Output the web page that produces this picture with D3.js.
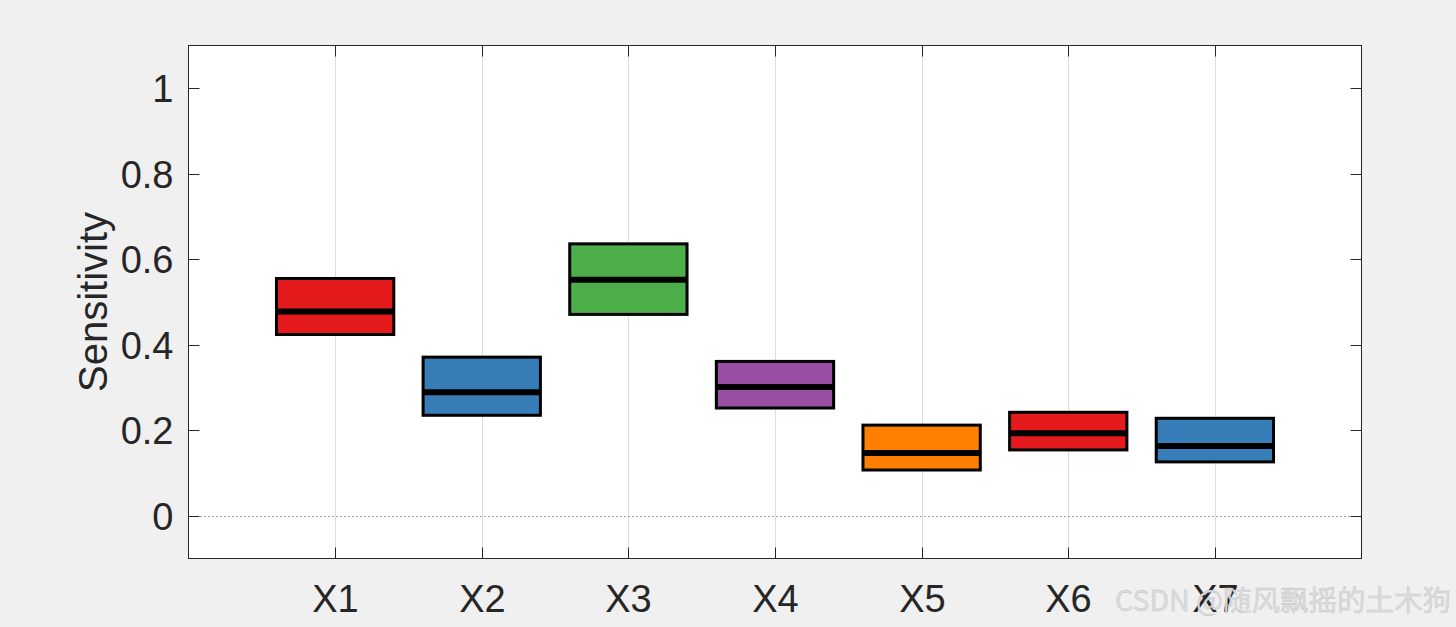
<!DOCTYPE html>
<html><head><meta charset="utf-8">
<script src="https://cdn.jsdelivr.net/npm/d3@7"></script>
<style>body{margin:0;background:#f0f0f0;}svg{display:block;}</style>
</head><body>
<script>
const categories = ["X1","X2","X3","X4","X5","X6","X7"];
const q1 =     [0.424, 0.235, 0.471, 0.252, 0.107, 0.154, 0.126];
const median = [0.478, 0.289, 0.552, 0.301, 0.147, 0.193, 0.163];
const q3 =     [0.555, 0.371, 0.636, 0.361, 0.212, 0.242, 0.228];
const colors = ["#e41a1c","#377eb8","#4daf4a","#984ea3","#ff7f00","#e41a1c","#377eb8"];
const yTicks = [0, 0.2, 0.4, 0.6, 0.8, 1];
const yTickLabels = ["0","0.2","0.4","0.6","0.8","1"];

const W = 1456, H = 627;
const L = 188.5, R = 1361.5, T = 45.5, B = 558.5;
const svg = d3.select("body").append("svg").attr("width", W).attr("height", H);
const x = d3.scaleLinear().domain([0, 8]).range([L, R]);
const y = d3.scaleLinear().domain([-0.1, 1.1]).range([B, T]);
const font = "'Liberation Sans', Arial, sans-serif";

svg.append("rect").attr("x", L).attr("y", T).attr("width", R - L).attr("height", B - T).attr("fill", "#fff");

// vertical grid
svg.append("g").selectAll("line").data(categories).join("line")
  .attr("x1", (d,i) => Math.round(x(i+1)) + 0.5).attr("x2", (d,i) => Math.round(x(i+1)) + 0.5)
  .attr("y1", T).attr("y2", B).attr("stroke", "#dcdcdc").attr("stroke-width", 1);

// zero dotted line
svg.append("line").attr("x1", L).attr("x2", R).attr("y1", Math.round(y(0))+0.5).attr("y2", Math.round(y(0))+0.5)
  .attr("stroke", "#444").attr("stroke-width", 1).attr("stroke-dasharray", "1,3");

// boxes
const bw = 0.8;
const g = svg.append("g");
categories.forEach((c, i) => {
  g.append("rect")
    .attr("x", x(i + 1 - bw/2)).attr("width", x(i + 1 + bw/2) - x(i + 1 - bw/2))
    .attr("y", y(q3[i])).attr("height", y(q1[i]) - y(q3[i]))
    .attr("fill", colors[i]).attr("stroke", "#000").attr("stroke-width", 3);
  g.append("line")
    .attr("x1", x(i + 1 - bw/2)).attr("x2", x(i + 1 + bw/2))
    .attr("y1", y(median[i])).attr("y2", y(median[i]))
    .attr("stroke", "#000").attr("stroke-width", 6);
});

// frame
svg.append("rect").attr("x", L).attr("y", T).attr("width", R - L).attr("height", B - T)
  .attr("fill", "none").attr("stroke", "#262626").attr("stroke-width", 1);

// y ticks (inward, both sides)
const tl = 11;
yTicks.forEach((v, i) => {
  const yy = Math.round(y(v)) + 0.5;
  svg.append("line").attr("x1", L).attr("x2", L + tl).attr("y1", yy).attr("y2", yy).attr("stroke", "#262626");
  svg.append("line").attr("x1", R - tl).attr("x2", R).attr("y1", yy).attr("y2", yy).attr("stroke", "#262626");
  svg.append("text").attr("x", L - 15).attr("y", yy).attr("dy", "0.36em")
    .attr("text-anchor", "end").attr("font-family", font).attr("font-size", 38).attr("fill", "#262626")
    .text(yTickLabels[i]);
});

// x ticks
categories.forEach((c, i) => {
  const xx = Math.round(x(i + 1)) + 0.5;
  svg.append("line").attr("x1", xx).attr("x2", xx).attr("y1", B - tl).attr("y2", B).attr("stroke", "#262626");
  svg.append("line").attr("x1", xx).attr("x2", xx).attr("y1", T).attr("y2", T + tl).attr("stroke", "#262626");
  svg.append("text").attr("x", xx).attr("y", 612)
    .attr("text-anchor", "middle").attr("font-family", font).attr("font-size", 38).attr("fill", "#262626")
    .text(c);
});

// y label
svg.append("text").attr("transform", "translate(107,302) rotate(-90)")
  .attr("text-anchor", "middle").attr("font-family", font).attr("font-size", 40).attr("fill", "#262626")
  .text("Sensitivity");

// watermark
svg.append("text").attr("x", 1451).attr("y", 611).attr("text-anchor", "end")
  .attr("font-family", "'Noto Sans CJK SC', " + font).attr("font-size", 28.5).attr("fill", "#dcdcdc")
  .attr("stroke", "#c4c4c4").attr("stroke-width", 0.4)
  .text("CSDN @随风飘摇的土木狗");
</script>
</body></html>
